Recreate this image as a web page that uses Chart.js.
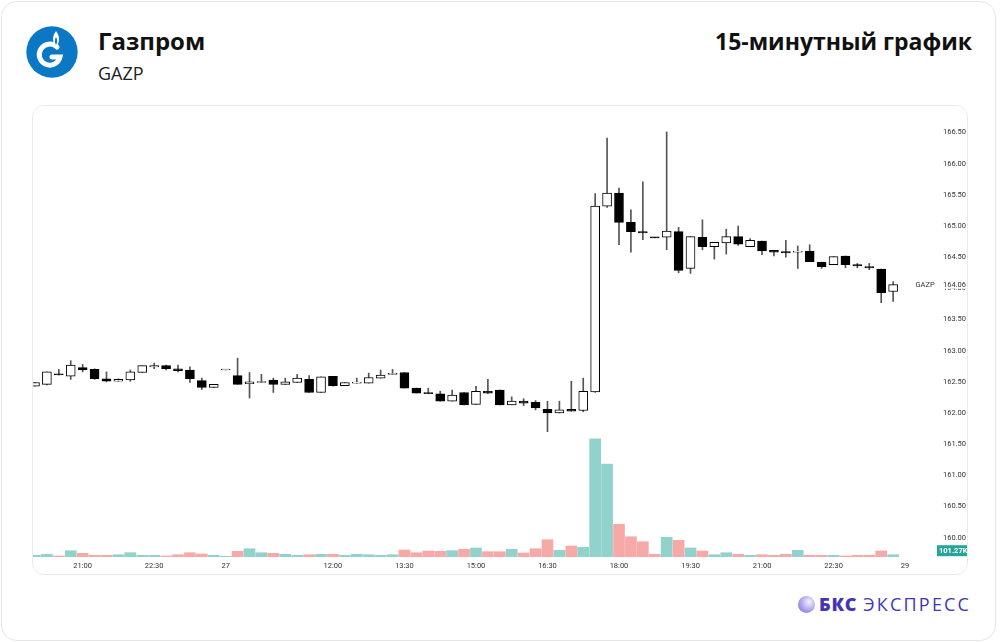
<!DOCTYPE html>
<html>
<head>
<meta charset="utf-8">
<script src="https://cdn.jsdelivr.net/npm/chart.js@4.4.1/dist/chart.umd.min.js"></script>
<style>
  html, body { margin: 0; padding: 0; background: #fff; }
  body { width: 1000px; height: 642px; position: relative; overflow: hidden; font-family: "Open Sans", sans-serif; }
  .card { position: absolute; left: 1px; top: 1px; width: 995px; height: 640px; border: 1px solid #e6e6e6; border-radius: 16px; box-sizing: border-box; }
  .logo { position: absolute; left: 26px; top: 26px; }
  .title { position: absolute; left: 98px; top: 25px; font-size: 24px; font-weight: 700; color: #111; line-height: 32px; }
  .ticker { position: absolute; left: 98px; top: 61px; font-size: 18px; color: #222; line-height: 24px; }
  .period { position: absolute; right: 28px; top: 25px; font-size: 23px; font-weight: 700; color: #111; line-height: 32px; }
  #chart { position: absolute; left: 32px; top: 105px; }
  .panel { position: absolute; left: 32px; top: 105px; width: 936px; height: 470px; border: 1px solid #ebebeb; border-radius: 12px; box-sizing: border-box; pointer-events: none; }
  .brand { position: absolute; left: 798px; top: 592px; height: 24px; display: flex; align-items: center; color: #4436b0; font-size: 18px; }
  .brand .ball { width: 17px; height: 17px; border-radius: 50%; background: radial-gradient(circle at 65% 35%, #f4f1ff 0%, #b9aef0 45%, #6f5fd6 100%); margin-right: 4px; }
  .brand b { font-weight: 800; margin-right: 6px; letter-spacing: 0.8px; }
  .brand span { letter-spacing: 2.2px; }
</style>
</head>
<body>
<div class="card"></div>
<svg class="logo" width="52" height="52" viewBox="0 0 52 52">
  <circle cx="26" cy="26" r="25.7" fill="#0a78c4"/>
  <path d="M31 21 A10.5 10.5 0 1 0 34 31 L26 31" stroke="#fff" stroke-width="5" fill="none" stroke-linecap="round"/>
  <path d="M30 5 C26 10 26 16 30 21 C34 16 34 10 30 5 Z" fill="#fff"/>
  <path d="M30 11 C28.5 14 28.5 16 30 19 C31.5 16 31.5 14 30 11 Z" fill="#0a78c4"/>
</svg>
<div class="title">Газпром</div>
<div class="ticker">GAZP</div>
<div class="period">15-минутный график</div>
<canvas id="chart" width="936" height="470"></canvas>
<div class="panel"></div>
<div class="brand"><div class="ball"></div><b>БКС</b><span>ЭКСПРЕСС</span></div>

<script>
// 15-min candles: evening of the 26th, then the whole day of the 27th
const times = [
  "20:00", "20:15", "20:30", "20:45", "21:00", "21:15", "21:30", "21:45",
  "22:00", "22:15", "22:30", "22:45", "23:00", "23:15", "23:30", "23:45",
  "09:45", "10:00", "10:15", "10:30", "10:45", "11:00", "11:15", "11:30", "11:45",
  "12:00", "12:15", "12:30", "12:45", "13:00", "13:15", "13:30", "13:45",
  "14:00", "14:15", "14:30", "14:45", "15:00", "15:15", "15:30", "15:45",
  "16:00", "16:15", "16:30", "16:45", "17:00", "17:15", "17:30", "17:45",
  "18:00", "18:15", "18:30", "18:45", "19:00", "19:15", "19:30", "19:45",
  "20:00", "20:15", "20:30", "20:45", "21:00", "21:15", "21:30", "21:45",
  "22:00", "22:15", "22:30", "22:45", "23:00", "23:15", "23:30", "23:45"
];

const opens = [
  162.43, 162.46, 162.63, 162.59, 162.73, 162.70, 162.55, 162.51, 162.53, 162.65,
  162.74, 162.76, 162.71, 162.69, 162.52, 162.41, 162.69, 162.60, 162.47, 162.49,
  162.53, 162.46, 162.49, 162.54, 162.33, 162.59, 162.44, 162.48, 162.48, 162.56,
  162.62, 162.65, 162.40, 162.33, 162.31, 162.19, 162.33, 162.14, 162.35, 162.37,
  162.13, 162.19, 162.17, 162.06, 162.00, 162.06, 162.04, 162.34, 165.32, 165.53,
  165.06, 164.91, 164.82, 164.82, 164.91, 164.32, 164.82, 164.67, 164.73, 164.83,
  164.67, 164.76, 164.61, 164.59, 164.58, 164.60, 164.42, 164.38, 164.52, 164.38,
  164.35, 164.31, 163.95
];
const highs = [
  162.49, 162.66, 162.70, 162.84, 162.78, 162.71, 162.66, 162.55, 162.69, 162.76,
  162.80, 162.77, 162.77, 162.74, 162.56, 162.46, 162.69, 162.88, 162.65, 162.62,
  162.56, 162.56, 162.62, 162.60, 162.58, 162.59, 162.49, 162.56, 162.64, 162.69,
  162.70, 162.65, 162.40, 162.40, 162.35, 162.37, 162.33, 162.43, 162.54, 162.37,
  162.26, 162.23, 162.20, 162.19, 162.19, 162.51, 162.56, 165.52, 166.41, 165.61,
  165.26, 165.71, 164.82, 166.51, 164.98, 164.83, 165.10, 164.74, 164.95, 165.00,
  164.80, 164.76, 164.61, 164.77, 164.68, 164.70, 164.42, 164.51, 164.52, 164.40,
  164.40, 164.31, 164.11
];
const lows = [
  162.43, 162.45, 162.61, 162.54, 162.66, 162.54, 162.50, 162.51, 162.51, 162.65,
  162.71, 162.69, 162.66, 162.49, 162.38, 162.41, 162.69, 162.46, 162.24, 162.49,
  162.33, 162.46, 162.49, 162.33, 162.33, 162.43, 162.44, 162.48, 162.48, 162.56,
  162.62, 162.40, 162.32, 162.31, 162.19, 162.19, 162.13, 162.14, 162.31, 162.13,
  162.13, 162.12, 162.05, 161.70, 162.00, 162.03, 162.02, 162.33, 165.30, 164.70,
  164.58, 164.78, 164.81, 164.62, 164.25, 164.24, 164.62, 164.47, 164.55, 164.69,
  164.67, 164.54, 164.52, 164.50, 164.32, 164.43, 164.32, 164.38, 164.33, 164.33,
  164.30, 163.77, 163.79
];
const closes = [
  162.49, 162.66, 162.61, 162.77, 162.69, 162.55, 162.51, 162.54, 162.66, 162.76,
  162.76, 162.71, 162.68, 162.55, 162.41, 162.46, 162.69, 162.46, 162.50, 162.50,
  162.46, 162.50, 162.56, 162.33, 162.58, 162.44, 162.49, 162.49, 162.57, 162.61,
  162.62, 162.40, 162.32, 162.31, 162.19, 162.29, 162.13, 162.35, 162.32, 162.13,
  162.19, 162.16, 162.08, 162.00, 162.05, 162.03, 162.35, 165.32, 165.53, 165.06,
  164.91, 164.89, 164.81, 164.92, 164.29, 164.83, 164.67, 164.74, 164.83, 164.71,
  164.77, 164.60, 164.58, 164.57, 164.60, 164.43, 164.35, 164.51, 164.38, 164.36,
  164.33, 163.93, 164.06
];
// volume, thousands of shares
const volumes = [
  75, 119, 44, 277, 163, 75, 75, 101, 189, 75,
  75, 44, 101, 189, 132, 75, 31, 251, 365, 189,
  163, 119, 75, 101, 119, 119, 75, 119, 101, 75,
  101, 308, 189, 264, 251, 277, 339, 396, 233, 233,
  339, 176, 365, 761, 295, 484, 427, 5205, 4092, 1439,
  893, 673, 119, 867, 735, 396, 264, 101, 189, 119,
  75, 101, 75, 119, 295, 75, 75, 75, 44, 75,
  75, 264, 101.27
];

const priceTicks = [160.00, 160.50, 161.00, 161.50, 162.00, 162.50, 163.00, 163.50, 164.00, 164.50, 165.00, 165.50, 166.00, 166.50];
const timeTickIdx = [4, 10, 16, 25, 31, 37, 43, 49, 55, 61, 67, 73];
const timeTickText = ["21:00", "22:30", "27", "12:00", "13:30", "15:00", "16:30", "18:00", "19:30", "21:00", "22:30", "29"];

const tickFont = { family: "Roboto", size: 7.5 };
const idx = times.map((t, i) => i);
const up = closes.map((c, i) => c >= opens[i]);
const last = closes.length - 1;

// last price and last volume tags on the right axis
const tagsPlugin = {
  id: "tags",
  afterDraw(chart) {
    const c = chart.ctx;
    const y = chart.scales.y;
    const yv = chart.scales.yv;
    const py = y.getPixelForValue(closes[last]);
    c.save();
    c.font = "7.5px Roboto";
    c.textBaseline = "middle";
    c.fillStyle = "#fff";
    c.fillRect(y.left + 28, py - 5, 30, 9);
    c.fillStyle = "#333";
    c.textAlign = "left";
    c.fillText(closes[last].toFixed(2), y.left + 32, py);
    c.textAlign = "center";
    c.fillText("GAZP", y.left + 14, py);

    const vy = yv.getPixelForValue(volumes[last]) - 4;
    c.fillStyle = "#26a69a";
    c.fillRect(y.left + 26, vy - 5.5, 40, 11);
    c.fillStyle = "#fff";
    c.font = "bold 7.5px Roboto";
    c.textAlign = "left";
    c.fillText(volumes[last].toFixed(2) + "K", y.left + 28, vy);
    c.restore();
  }
};

const ctx = document.getElementById("chart").getContext("2d");

new Chart(ctx, {
  type: "bar",
  data: {
    datasets: [
      {
        label: "body",
        data: idx.map(i => ({ x: i, y: [opens[i], closes[i]] })),
        backgroundColor: up.map(u => (u ? "#ffffff" : "#000000")),
        borderColor: "#000000",
        borderWidth: 1,
        borderSkipped: false,
        barThickness: 9,
        minBarLength: 1,
        grouped: false,
        order: 0,
        yAxisID: "y"
      },
      {
        label: "wick",
        data: idx.map(i => ({ x: i, y: [lows[i], highs[i]] })),
        backgroundColor: "#555555",
        borderWidth: 0,
        barThickness: 1,
        grouped: false,
        order: 1,
        yAxisID: "y"
      },
      {
        label: "volume",
        data: idx.map(i => ({ x: i, y: volumes[i] })),
        backgroundColor: up.map(u => (u ? "rgba(38,166,154,0.5)" : "rgba(239,83,80,0.5)")),
        borderWidth: 0,
        barThickness: 11,
        grouped: false,
        order: 2,
        yAxisID: "yv"
      }
    ]
  },
  options: {
    responsive: false,
    animation: false,
    devicePixelRatio: 1,
    layout: { autoPadding: false, padding: { left: 0, top: 7, right: 0, bottom: 0 } },
    plugins: {
      legend: { display: false },
      tooltip: { enabled: false }
    },
    scales: {
      x: {
        type: "linear",
        offset: false,
        min: -0.25,
        max: 73.5,
        grid: { display: false, drawTicks: false, offset: false },
        border: { display: false },
        afterBuildTicks: s => { s.ticks = timeTickIdx.map(v => ({ value: v })); },
        afterFit: s => { s.height = 18; },
        ticks: {
          autoSkip: false,
          maxRotation: 0,
          padding: 5,
          color: "#333",
          font: tickFont,
          callback: v => timeTickText[timeTickIdx.indexOf(v)]
        }
      },
      y: {
        position: "right",
        offset: false,
        min: 159.69,
        max: 166.83,
        grid: { display: false, drawTicks: true, tickLength: 32 },
        border: { display: false },
        afterBuildTicks: s => { s.ticks = priceTicks.map(v => ({ value: v })); },
        afterFit: s => { s.width = 57; },
        ticks: {
          padding: 0,
          crossAlign: "near",
          color: "#333",
          font: tickFont,
          callback: v => v.toFixed(2)
        }
      },
      yv: {
        display: false,
        offset: false,
        min: 0,
        max: 19600
      }
    }
  },
  plugins: [tagsPlugin]
});
</script>
</body>
</html>
